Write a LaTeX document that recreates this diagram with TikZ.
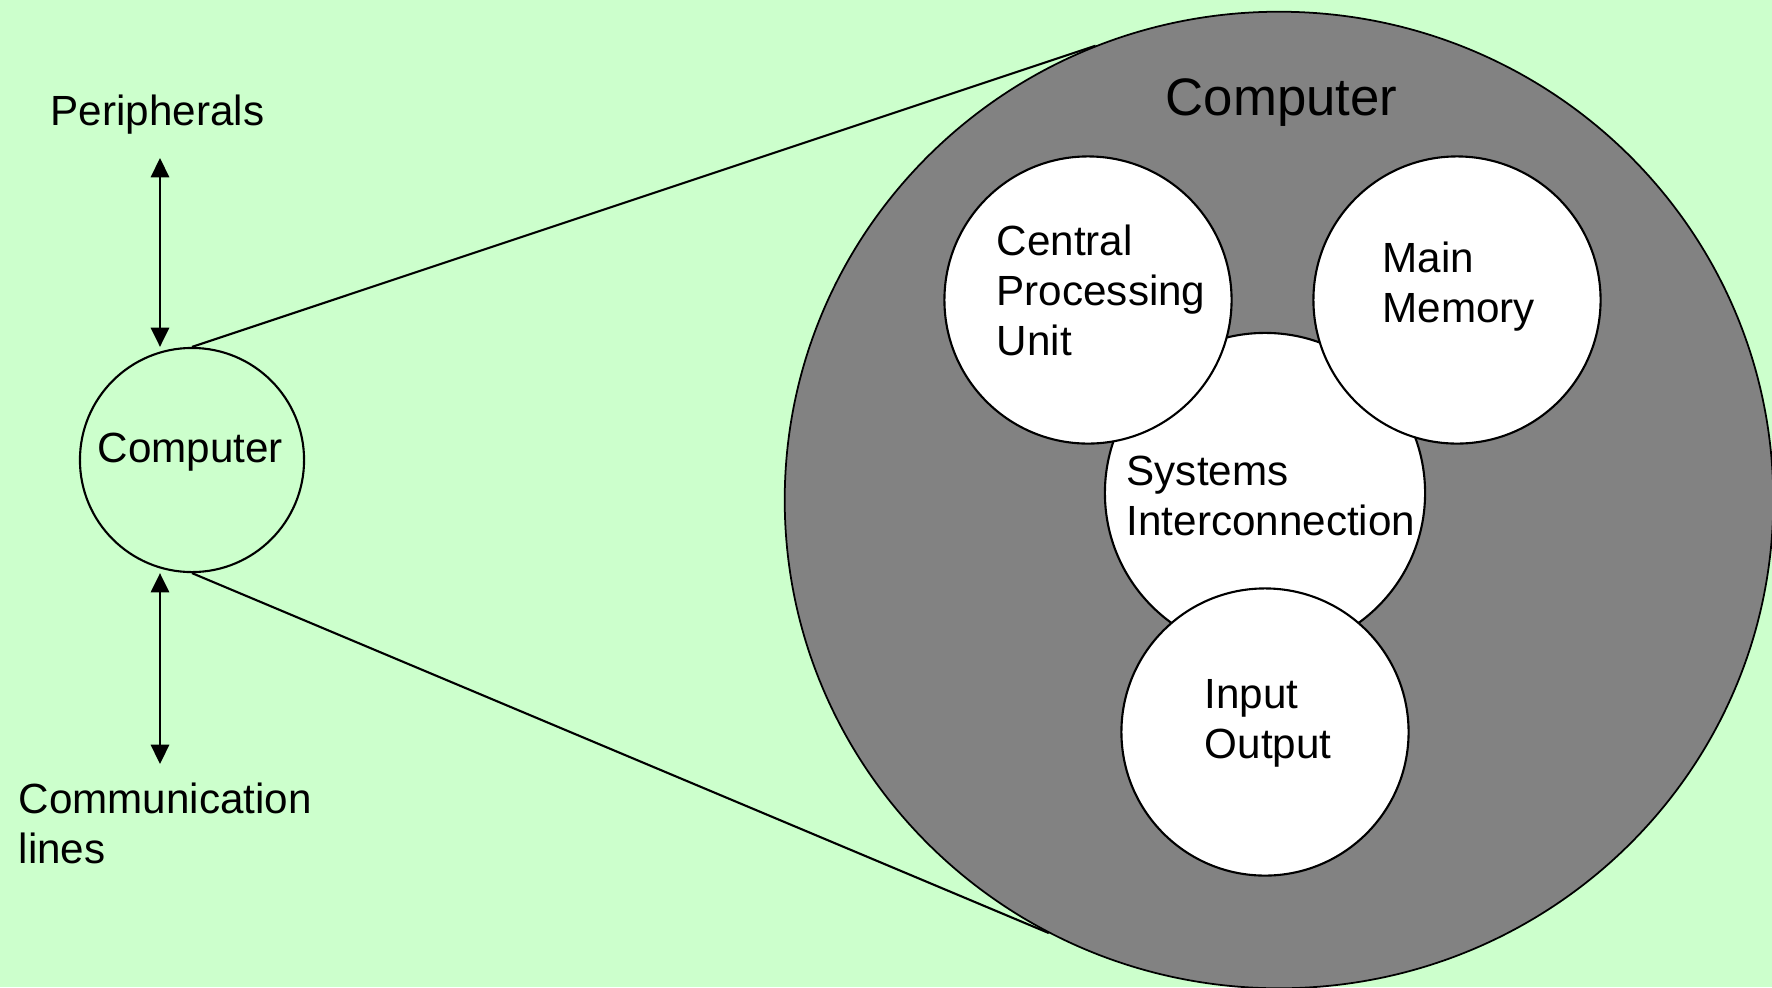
\documentclass[tikz,border=0pt]{standalone}
\usepackage{fontspec}
\setmainfont{Liberation Sans}
\usetikzlibrary{calc,arrows.meta,shapes.geometric}
\definecolor{bggreen}{RGB}{204,255,204}
\definecolor{dotgray}{RGB}{130,130,130}
\def\unitcircle#1#2{
\node[part] (#1) at #2 {};
}

\begin{document}
\begin{tikzpicture}[x=0.01cm,y=-0.01cm,
  part/.style={circle,draw,fill=white,line width=0.6pt,minimum size=2.87cm,inner sep=0pt},
  tag/.style={anchor=base west,align=left,inner sep=0pt,font=\fontsize{12}{14.2}\selectfont},
  dbl/.style={line width=0.7pt,{Triangle[length=5.5pt,width=5.2pt]}-{Triangle[length=5.5pt,width=5.2pt]}}]
\useasboundingbox (0,0) rectangle (1772,987);
\fill[bggreen] (0,0) rectangle (1772,987);
\node[ellipse,draw,fill=dotgray,line width=0.5pt,minimum width=9.88cm,minimum height=9.76cm,inner sep=0pt] (big) at (1279,500) {};
\node[circle,draw,line width=0.6pt,minimum size=2.24cm,inner sep=0pt] (comp) at (192,460) {};
\draw[line width=0.6pt] (comp.north) -- (big.112.8);
\draw[line width=0.6pt] (comp.south) -- (big.242.4);
\coordinate (pa) at (160,158);
\coordinate (ca) at (160,764);
\draw[dbl] (pa) -- (pa |- comp.north);
\draw[dbl] (ca |- comp.south) -- (ca);
\node[part,minimum size=3.2cm] (sic) at (1265,493) {};
\unitcircle{cpu}{(1088,300)}
\unitcircle{mem}{(1457,300)}
\unitcircle{io}{(1265,732)}
\node[tag] (periph) at (50,125) {Peripherals};
\node[tag] (commL) at (18,863) {Communication\\lines};
\node[tag] (compL) at (97,462) {Computer};
\node[tag,font=\fontsize{15}{18}\selectfont] (bigL) at (1165,115) {Computer};
\node[tag] (cpuL) at (996,355) {Central\\Processing\\Unit};
\node[tag] (memL) at (1382,322) {Main\\Memory};
\node[tag] (sicL) at (1126,535) {Systems\\Interconnection};
\node[tag] (ioL) at (1204,758) {Input\\Output};
\end{tikzpicture}
\end{document}
